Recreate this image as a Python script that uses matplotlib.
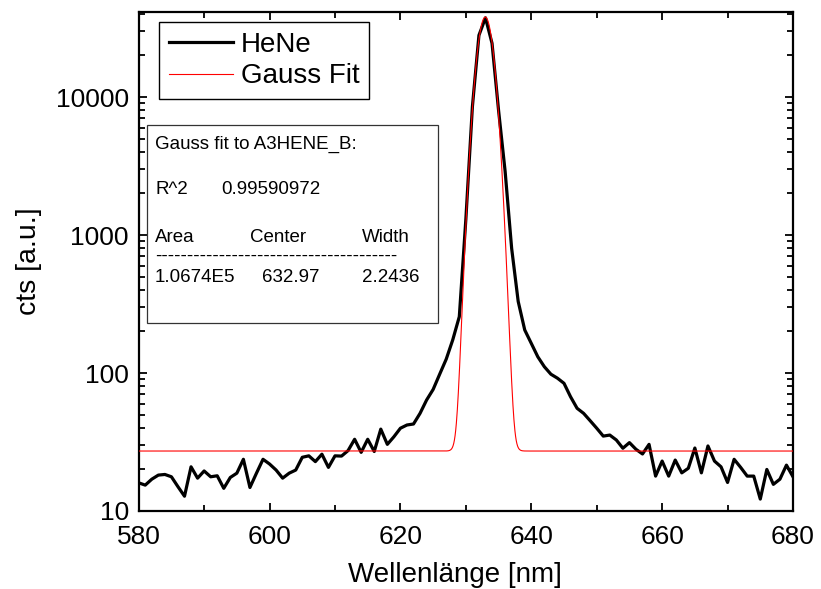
import numpy as np
import matplotlib
matplotlib.use("Agg")
import matplotlib.pyplot as plt
from matplotlib.ticker import MultipleLocator, FixedLocator, FuncFormatter, LogLocator, NullFormatter
from matplotlib.patches import Rectangle

plt.rcParams["font.family"] = ["Liberation Sans", "DejaVu Sans"]

# measured spectrum (1 nm steps)
wavelength = np.arange(580, 681, 1)
hene = [16.0, 15.4, 17.0, 18.2, 18.4, 17.7, 15.0, 12.8, 20.9, 17.3,
        19.5, 17.7, 18.0, 14.6, 17.5, 18.8, 23.7, 14.8, 18.8, 23.7,
        21.9, 19.8, 17.3, 18.8, 19.8, 24.5, 25.1, 22.8, 25.8, 20.7,
        25.1, 25.0, 27.4, 33.1, 26.6, 33.1, 27.0, 39.2, 30.4, 34.5,
        39.8, 42.0, 42.7, 51.0, 63.7, 76.0, 98.0, 126.0, 174.0, 256.0,
        1300.0, 8500.0, 28000.0, 37500.0, 24500.0, 8000.0, 2900.0, 800.0, 330.0, 205.0,
        164.0, 131.0, 111.0, 98.0, 91.7, 84.2, 67.3, 55.5, 51.0, 45.1,
        39.8, 34.9, 35.5, 32.7, 28.5, 31.3, 28.0, 25.9, 30.4, 17.9,
        23.0, 17.9, 23.4, 18.9, 20.4, 28.6, 18.9, 29.6, 23.0, 20.9,
        16.1, 23.7, 20.7, 17.9, 17.9, 12.2, 20.0, 15.6, 17.0, 21.5,
        17.7]

# gauss fit parameters (from the annotation box), y0
fit_y0 = 27.2
fit_area = 1.0674e5
fit_center = 632.97
fit_width = 2.2436
fit_r2 = "0.99590972"

# fit curve of the Origin "Gauss" model
x_fit = np.linspace(580, 680, 2001)
y_fit = fit_y0 + fit_area / (fit_width * np.sqrt(np.pi / 2)) * \
    np.exp(-2 * ((x_fit - fit_center) / fit_width) ** 2)

W, H = 821, 589
fig = plt.figure(figsize=(W / 100, H / 100), dpi=100)
ax = fig.add_axes([138.7 / W, 1 - 511 / H, (793 - 138.7) / W, (511 - 12) / H])

ax.plot(wavelength, hene, color="k", linewidth=2.3, label="HeNe", zorder=3)
ax.plot(x_fit, y_fit, color="red", linewidth=0.8, label="Gauss Fit", zorder=4)

ax.set_yscale("log")
ax.set_xlim(580, 680)
ax.set_ylim(10, 41300)

# ticks
ax.xaxis.set_major_locator(MultipleLocator(20))
ax.xaxis.set_minor_locator(MultipleLocator(10))
ax.yaxis.set_major_locator(FixedLocator([10, 100, 1000, 10000]))
ax.yaxis.set_major_formatter(FuncFormatter(lambda v, p: "%d" % v))
ax.yaxis.set_minor_locator(LogLocator(base=10, subs=np.arange(2, 10)))
ax.yaxis.set_minor_formatter(NullFormatter())
ax.tick_params(which="both", direction="in", top=True, right=True, width=1.3)
ax.tick_params(which="major", length=6, labelsize=19)
ax.tick_params(axis="x", which="major", pad=10)
ax.tick_params(axis="y", which="major", pad=7)
ax.tick_params(which="minor", length=4.5)
for sp in ax.spines.values():
    sp.set_linewidth(1.6)

ax.set_xlabel("Wellenlänge [nm]", fontsize=20)
ax.set_ylabel("cts [a.u.]", fontsize=20.5)
ax.xaxis.set_label_coords(0.483, -0.103)
ax.yaxis.set_label_coords(-0.148, 0.5)

# legend
leg = ax.legend(loc="upper left", bbox_to_anchor=(159 / W, 1 - 22 / H),
                bbox_transform=fig.transFigure, borderaxespad=0, fontsize=20,
                handlelength=2.3, handletextpad=0.3, labelspacing=0.2,
                borderpad=0.35, fancybox=False, framealpha=1)
leg.get_frame().set_edgecolor("k")
leg.get_frame().set_linewidth(1.0)

# annotation box with fit results
box = Rectangle((147 / W, 1 - 323 / H), (438 - 147) / W, (323 - 125) / H,
                transform=fig.transFigure, facecolor="white", edgecolor="#333333",
                linewidth=0.9, zorder=5)
fig.patches.append(box)

fs = 13.5
def txt(px, py, s):
    fig.text(px / W, 1 - py / H, s, fontsize=fs, ha="left", va="center", zorder=6)

txt(155, 144, "Gauss fit to A3HENE_B:")
txt(155, 190, "R^2")
txt(221, 190, fit_r2)
txt(155, 238, "Area")
txt(250, 238, "Center")
txt(362, 238, "Width")
txt(155, 256, "-" * 38)
txt(155, 278, "1.0674E5")
txt(262, 278, "632.97")
txt(362, 278, "2.2436")

fig.savefig("out.png", dpi=100)
